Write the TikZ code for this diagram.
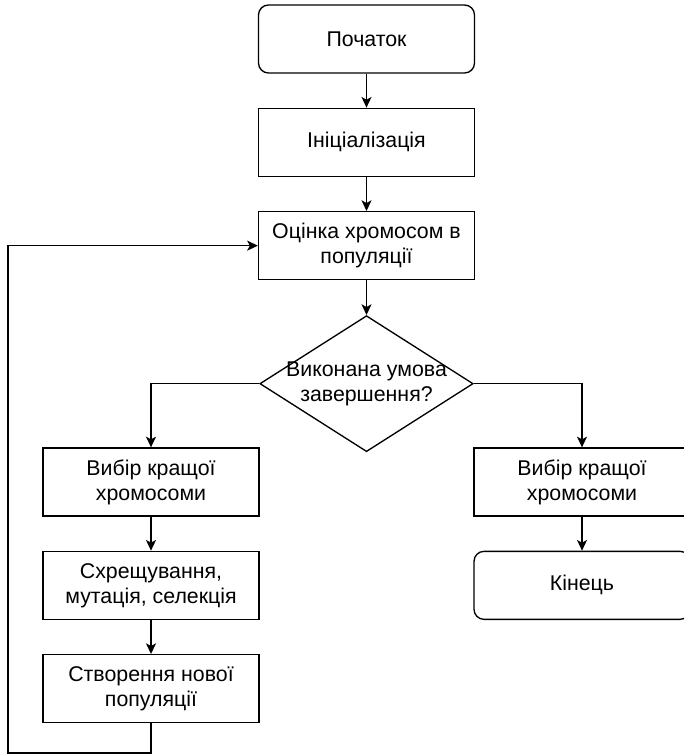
\documentclass[tikz,border=0pt]{standalone}
\usepackage{fontspec}
\setmainfont{Liberation Sans}
\usetikzlibrary{shapes.geometric,positioning,arrows.meta}

\begin{document}
\begin{tikzpicture}[
		x=0.75pt, y=-0.75pt,
		node distance=25.5pt,
		every node/.style={
		  font=\fontsize{16}{18.75}\selectfont,
		  align=center
		  },
		block/.style={
		  draw,
		  rectangle,
		  minimum width=162pt,
		  minimum height=51pt,
		  inner sep=0pt
		  },
		term/.style={
		  block,
		  rounded corners=7.5pt
		  },
		decision/.style={
		  draw,
		  diamond,
		  minimum width=160pt,
		  minimum height=102pt,
		  inner sep=0pt
		  },
		line width=1pt,
		>={Stealth[length=8pt,width=7.5pt,inset=2pt]}
		]
		\useasboundingbox (0,0) rectangle (683,755);
		% main column
		\node[term] (start) at (366.5,39) {Початок};
		\node[block, below=of start] (init) {Ініціалізація};
		\node[block, below=of init] (eval) {Оцінка хромосом в\\популяції};
		\node[decision, below=26pt of eval,
		  label={[align=center]center:Виконана умова\\завершення?}] (check) {};
		% left branch
		\node[block] (pick) at (151,482) {Вибір кращої\\хромосоми};
		\node[block, below=of pick] (cross) {Схрещування,\\мутація, селекція};
		\node[block, below=of cross] (newpop) {Створення нової\\популяції};
		% right branch
		\node[block] (pickr) at (582,482) {Вибір кращої\\хромосоми};
		\node[term, below=of pickr] (finish) {Кінець};
		\coordinate (loop) at (8,753);

		\draw[->] (start) -- (init);
		\draw[->] (init) -- (eval);
		\draw[->] (eval) -- (check);
		\draw[->] (check.west) -| (pick.north);
		\draw[->] (check.east) -| (pickr.north);
		\draw[->] (pick) -- (cross);
		\draw[->] (cross) -- (newpop);
		\draw[->] (pickr) -- (finish);
		\draw[->] (newpop.south) |- (loop) |- (eval.west);
	\end{tikzpicture}
\end{document}
